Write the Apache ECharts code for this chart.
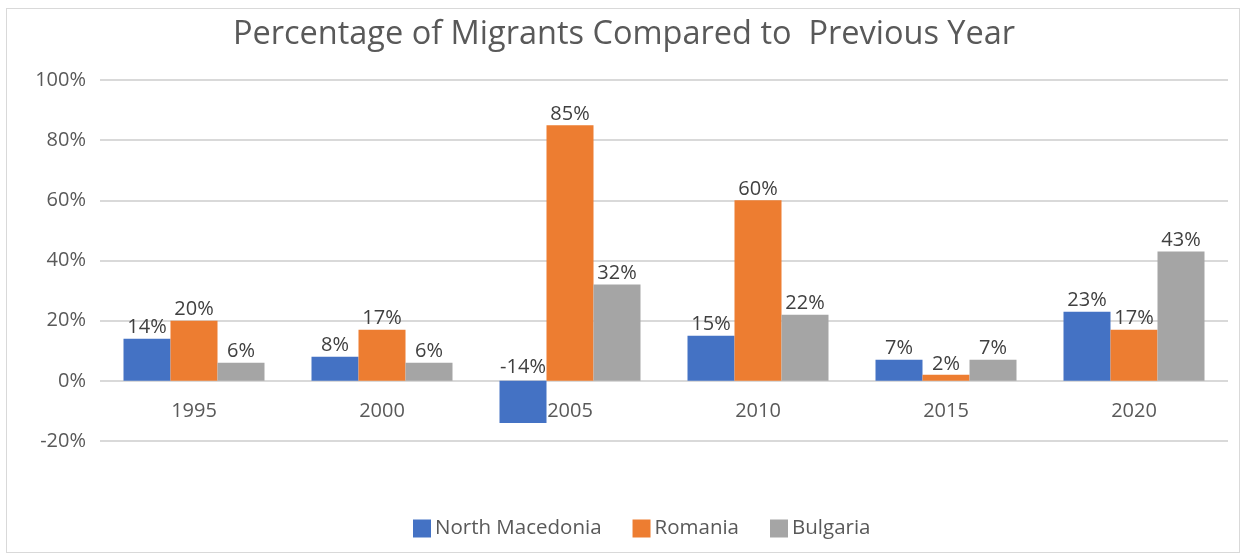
<!DOCTYPE html>
<html>
<head>
<meta charset="utf-8">
<script src="https://cdn.jsdelivr.net/npm/echarts@6/dist/echarts.min.js"></script>
<style>
  html, body { margin: 0; padding: 0; background: #fff; }
  #frame { position: absolute; left: 6px; top: 8px; width: 1234px; height: 545px; border: 1px solid #d9d9d9; box-sizing: border-box; }
  #chart { width: 1248px; height: 559px; position: absolute; left: 0; top: 0; }
</style>
</head>
<body>
<div id="frame"></div>
<div id="chart"></div>
<script>
const years = ['1995', '2000', '2005', '2010', '2015', '2020'];
const northMacedonia = [14, 8, -14, 15, 7, 23];
const romania = [20, 17, 85, 60, 2, 17];
const bulgaria = [6, 6, 32, 22, 7, 43];
const seriesNames = ['North Macedonia', 'Romania', 'Bulgaria'];
const yTicks = [-20, 0, 20, 40, 60, 80, 100];
const colors = ['#4472C4', '#ED7D31', '#A5A5A5'];

const FONT = '"Open Sans", "Noto Sans", sans-serif';
const Y_MIN = yTicks[0];
const Y_MAX = yTicks[yTicks.length - 1];

const chart = echarts.init(document.getElementById('chart'));

// Grid geometry; the category axis sits on the zero line.
const GRID_TOP = 80, GRID_BOTTOM = 118;
const plotHeight = 559 - GRID_TOP - GRID_BOTTOM;
const zeroOffset = -plotHeight * (0 - Y_MIN) / (Y_MAX - Y_MIN);

function barSeries(name, values, color) {
  return {
    name: name,
    type: 'bar',
    barGap: '0%',
    barCategoryGap: '25%',
    itemStyle: { color: color },
    label: {
      show: true,
      position: 'top',
      distance: 1,
      color: '#404040',
      fontFamily: FONT,
      fontSize: 20,
      formatter: p => p.value + '%'
    },
    // negative values keep their label just above the zero line
    data: values.map(v => v < 0
      ? { value: v, label: { position: 'insideTop', offset: [0, -25] } }
      : v)
  };
}

chart.setOption({
  animation: false,
  color: colors,
  title: {
    text: 'Percentage of Migrants Compared to  Previous Year',
    left: 'center',
    top: 13,
    textStyle: { color: '#595959', fontFamily: FONT, fontSize: 32.5, fontWeight: 'normal' }
  },
  legend: {
    bottom: 15,
    left: 408,
    itemWidth: 18,
    itemHeight: 18,
    itemGap: 31,
    icon: 'rect',
    textStyle: { color: '#595959', fontFamily: FONT, fontSize: 20.5, padding: [0, 0, 0, -1] },
    data: seriesNames
  },
  grid: { left: 100, right: 20, top: GRID_TOP, bottom: GRID_BOTTOM },
  xAxis: {
    type: 'category',
    data: years,
    offset: zeroOffset,
    axisLine: { show: false, onZero: false },
    axisTick: { show: false },
    axisLabel: { color: '#595959', fontFamily: FONT, fontSize: 20, margin: 20 }
  },
  yAxis: {
    type: 'value',
    min: Y_MIN,
    max: Y_MAX,
    interval: 20,
    axisLine: { show: false },
    axisTick: { show: false },
    splitLine: { lineStyle: { color: '#d9d9d9', width: 2 } },
    axisLabel: { color: '#595959', fontFamily: FONT, fontSize: 20, margin: 14, formatter: v => v + '%' }
  },
  series: [
    barSeries(seriesNames[0], northMacedonia, colors[0]),
    barSeries(seriesNames[1], romania, colors[1]),
    barSeries(seriesNames[2], bulgaria, colors[2])
  ]
});
</script>
</body>
</html>
